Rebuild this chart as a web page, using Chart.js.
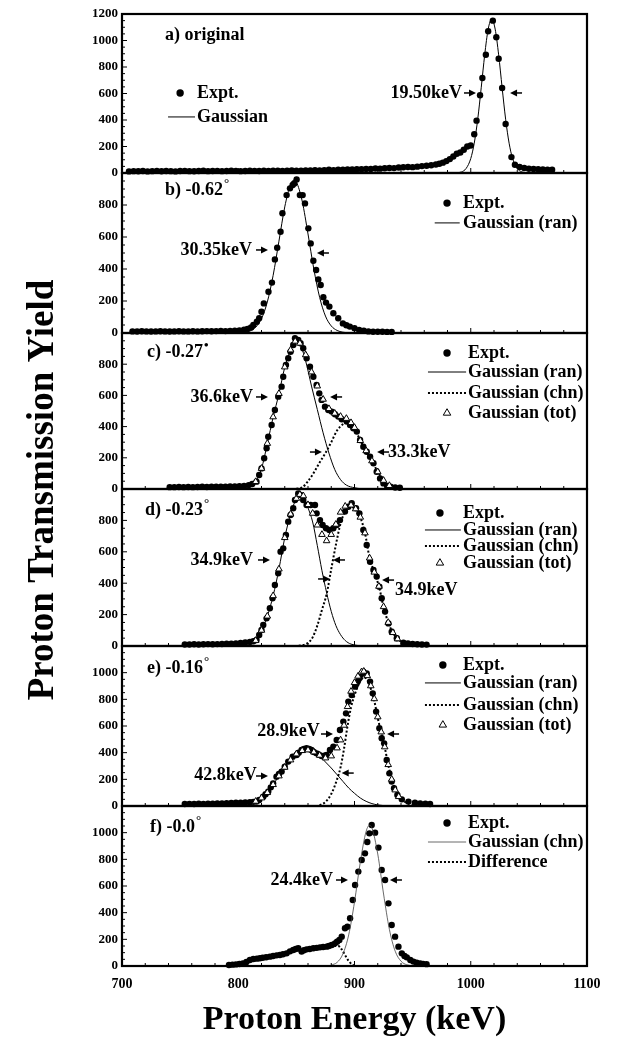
<!DOCTYPE html>
<html>
<head>
<meta charset="utf-8">
<script src="https://cdn.jsdelivr.net/npm/chart.js@4.4.1/dist/chart.umd.min.js"></script>
<style>
  html, body { margin: 0; padding: 0; background: #fff; }
  canvas { display: block; }
</style>
</head>
<body>
<canvas id="chart" width="640" height="1051"></canvas>
<script>
'use strict'

// ---- data (energy in keV, yield in counts) ----

// a) original
const aExptE = [706,710,714,718,722,726,730,734,738,742,746,750,754,758,762,766,770,774,778,782,786,790,794,798,802,806,810,814,818,822,826,830,834,838,842,846,850,854,858,862,866,870,874,878,882,886,890,894,898,902,906,910,914,918,922,926,930,934,938,942,946,950,954,958,962,966,970,973,976,979,982,985,988,991,994,997,1000,1003,1005,1008,1010,1013,1015,1019,1022,1024,1027,1030,1035,1038,1042,1046,1050,1054,1058,1062,1066,1070];
const aExptN = [12,14,13,15,12,14,16,13,15,14,12,15,16,14,13,15,17,14,15,16,14,15,17,16,14,15,17,16,15,17,16,18,17,16,18,19,17,18,20,19,21,20,22,24,22,25,24,27,26,29,28,31,30,34,33,36,38,37,41,43,45,44,48,52,55,58,64,70,78,90,105,125,145,155,175,200,207,292,395,587,717,892,1070,1150,1025,862,642,370,120,62,45,38,32,30,28,26,25,24];
const aGaussE = [988,992,996,1000,1003,1006,1009,1012,1015,1018,1021,1024,1027,1030,1033,1036,1040,1044,1048];
const aGaussN = [2,8,34,109,225,406,643,892,1086,1160,1086,892,643,406,225,109,34,8,2];

// b) -0.62 deg
const bExptE = [709,713,717,721,725,729,733,737,741,745,749,753,757,761,765,769,773,777,781,785,789,793,797,801,805,808,811,813,816,818,820,822,826,829,831.5,833.5,836.4,838,841.6,844.5,846.8,848.2,850.2,853,855.4,857.4,860.3,862.3,864.6,867,868.9,870.9,873.2,875.5,878.4,881.8,886,890,893,896,900,904,908,912,916,920,924,928,932];
const bExptN = [10,9,11,10,9,10,11,10,9,10,11,10,10,11,10,11,12,11,12,13,12,13,14,16,20,26,34,50,70,92,133,185,258,315,460,533,633,748,862,904,925,935,960,862,862,810,654,560,452,394,335,300,223,190,165,123,92,60,48,40,30,19,14,10,8,8,8,7,7];
const bRanE = [805,810,815,820,825,830,835,840,845,848,850,855,860,865,870,875,880,885,890,895];
const bRanN = [4,12,36,90,194,360,574,788,929,955,944,824,619,400,223,106,44,16,5,1];

// c) -0.27 deg
const cExptE = [741,745,749,753,757,761,765,769,773,777,781,785,789,793,797,801,805,809,812,815.7,818,820,822.3,824.4,825.8,828.7,831.5,834.4,837.3,838.7,841,843,845,847.3,848.8,851.6,853.6,855.9,858.8,861.7,864.6,867.4,869.7,871.7,874.6,877.5,880.4,883.2,886.1,889,893.3,896.2,899,902,904.8,907.6,910.5,913.4,916.3,919.1,922,924.9,928,931,935,939];
const cExptN = [12,12,13,12,13,12,13,14,13,14,15,14,15,16,17,18,20,25,32,47,90,132,197,261,335,410,506,592,656,720,795,838,880,923,966,955,934,902,838,784,720,667,613,571,528,506,496,479,464,447,432,410,389,368,314,271,239,207,165,111,68,36,20,14,10,8];
const cRanE = [810,815,820,825,830,835,840,845,849,853,858,863,868,873,878,883,888,893,900,905];
const cRanN = [15,45,130,290,460,610,780,890,945,930,820,660,510,360,230,125,60,25,8,2];
const cChnE = [850,855,860,865,870,875,880,885,890,893,897,900,905,910,915,920,925,930,935,940];
const cChnN = [2,10,50,105,170,230,300,375,415,427,415,390,310,245,180,110,55,22,8,2];
const cTotE = [815,820,825,830,835,840,845,849,853,858,863,868,873,878,883,888,893,897,900,905,910,915,920,925,930];
const cTotN = [47,132,292,462,612,782,891,947,934,860,750,660,575,515,485,465,452,425,394,310,245,180,110,55,22];

// d) -0.23 deg
const dExptE = [754,758,762,766,770,774,778,782,786,790,794,798,802,806,810,813,815.7,818,820,821.5,824.4,827.2,829.5,831.5,834.4,836.4,838.7,841,843,845,847.3,848.8,851.6,853.6,855.9,858.8,862.3,866,867.4,870.3,872.6,875.5,878.4,881.8,884.7,887.5,891.8,894.7,897.6,901.3,904.2,907.6,910.5,913.4,916.3,919.1,921.4,923.4,926.3,929.2,932,936.4,942.1,946,950,954,958,962];
const dExptN = [10,10,11,10,11,12,11,12,13,14,15,17,19,22,26,30,38,70,102,134,176,240,304,389,463,601,622,707,792,834,877,930,972,962,930,898,898,898,845,802,771,750,739,750,771,802,856,887,909,877,845,739,643,537,484,442,378,304,219,144,91,49,21,16,13,11,10,9];
const dRanE = [810,815,820,825,830,835,840,845,850,853,856,860,864,868,872,876,880,884,888,892,897,903];
const dRanN = [15,35,100,190,320,490,690,840,940,965,950,880,790,640,480,340,220,130,72,35,12,3];
const dChnE = [852,856,860,864,868,872,876,880,884,888,892,897,901,905,909,913,917,921,925,929,933,937,942,948];
const dChnN = [2,6,20,55,130,230,330,490,645,780,855,885,873,820,720,560,470,380,250,150,85,45,20,6];
const dTotE = [815,820,825,830,835,840,845,850,853,856,860,864,868,872,876,880,884,888,892,897,901,905,909,913,917,921,925,929,933,937];
const dTotN = [35,100,190,320,490,690,840,940,965,956,900,845,770,710,670,710,775,852,890,897,873,820,720,560,470,380,250,150,85,45];

// e) -0.16 deg
const eExptE = [754,758,762,766,770,774,778,782,786,790,794,798,802,806,810,813,815.7,818,821.5,823.5,825.8,828,830,832.9,835,837.3,840,843,846.8,850.2,852,854.5,856.5,858.8,861,863,865,867.4,869.5,871.7,874,876,878.9,881.8,884.7,887.5,890.4,892.7,894.7,897.6,900.5,902.5,904.2,906,907.6,910.5,913.4,915.7,918.6,921.4,923.4,925.5,927.7,930,932,934,936.9,940.7,946.4,952,956.5,961,965];
const eExptN = [15,16,15,17,16,18,17,19,20,21,22,24,25,27,29,31,33,45,70,88,108,140,170,220,240,258,295,333,370,383,400,420,428,433,428,420,405,395,385,375,378,383,420,445,495,570,633,695,783,833,895,930,958,990,1008,995,933,845,708,583,508,470,345,245,183,133,83,50,33,25,20,17,15];
const eRanE = [810,815,820,825,830,835,840,845,850,855,860,865,870,875,880,885,890,895,900,905,910,915,920,925];
const eRanN = [20,35,60,100,160,225,290,345,390,415,420,405,375,330,285,235,185,135,95,60,35,18,8,3];
const eChnE = [870,875,880,885,888,891,894,897,900,903,906,908,911,914,917,920,923,926,929,932,935,938,942,947,953];
const eChnN = [5,30,90,200,290,430,600,740,830,900,950,965,945,880,790,660,550,440,310,200,120,70,38,15,4];
const eTotE = [815,820,825,830,835,840,845,850,855,860,865,870,875,880,885,888,891,894,897,900,903,906,908,911,914,917,920,923,926,929,932,935,938];
const eTotN = [35,60,100,160,225,290,345,390,415,420,405,380,360,375,435,495,605,745,860,925,973,1005,1010,977,901,804,668,555,443,310,200,120,70];

// f) -0.0 deg
const fExptE = [792,795,798,801,804,807,810,813,816,818.6,821,824,827.2,830,833,835.8,838.5,841.6,844.5,847.3,849.5,851.6,854.5,856.5,858.8,861.5,864.6,867.5,870.3,873,876,878,880.4,883.2,885,887,889,891.8,893.9,896.2,898.5,900.5,903.3,906.2,909,911,912.8,914.8,917.7,920.6,923.4,926.3,929.2,932,934.9,937.8,940.7,943,945,948,950.7,953.5,956.5,959,962];
const fExptN = [8,10,12,15,20,30,45,52,55,58,62,66,70,75,80,83,88,95,110,120,128,133,108,118,125,128,133,136,140,142,145,150,158,170,182,195,220,283,295,358,495,608,708,795,845,930,995,1058,1000,888,720,645,470,308,220,145,95,75,65,45,33,25,20,16,14];
const fChnE = [880,885,890,895,900,905,910,913,915,920,925,930,935,940,945,950];
const fChnN = [7,27,90,233,480,780,1010,1055,1036,840,540,275,111,36,9,2];
const fDiffE = [795,805,815,825,835,845,855,865,875,882,886,889,892,895,898,901];
const fDiffN = [10,25,54,68,82,112,112,133,143,150,150,125,80,38,10,0];

// ---- panel layout and annotations (keV / counts on each panel's own axes) ----
const panels = [
  {id: 'ya', max: 1200, weight: 159, showTop: true,
   title: [737, 1041, 'a) original', ''],
   labels: [[992.5, 604, '19.50keV', 'right']],
   arrows: [[1004.5, 604, 'r'], [1033.8, 604, 'l']],
   legend: {dot: 750, sym: [739.6, 762.8], tx: 764.5, rows: [604, 423]}},
  {id: 'yb', max: 1000, weight: 160,
   title: [737, 894, 'b) -0.62', '°'],
   labels: [[811.8, 519, '30.35keV', 'right']],
   arrows: [[825.6, 519, 'r'], [867.7, 500, 'l']],
   legend: {dot: 979.6, sym: [969, 990.5], tx: 993.3, rows: [812, 688]}},
  {id: 'yc', max: 1000, weight: 156,
   title: [721.5, 878, 'c) -0.27', '•'],
   labels: [[812.7, 590, '36.6keV', 'right'], [928.8, 237, '33.3keV', 'left']],
   arrows: [[825.6, 590, 'r'], [879, 590, 'l'], [872, 237, 'r'], [919.4, 237, 'l']],
   legend: {dot: 979.6, sym: [963.2, 996], tx: 997.6, rows: [872, 750, 615, 487]}},
  {id: 'yd', max: 1000, weight: 157,
   title: [719.8, 866, 'd) -0.23', '°'],
   labels: [[812.7, 548, '34.9keV', 'right'], [934.8, 357, '34.9keV', 'left']],
   arrows: [[827.3, 548, 'r'], [881.5, 548, 'l'], [879, 427, 'r'], [923.7, 420, 'l']],
   legend: {dot: 973.5, sym: [960.6, 991.5], tx: 993.3, rows: [847, 739, 637, 529]}},
  {id: 'ye', max: 1200, weight: 160,
   title: [721.5, 1035, 'e) -0.16', '°'],
   labels: [[870, 562, '28.9keV', 'right'], [816, 232, '42.8keV', 'right']],
   arrows: [[881.5, 540, 'r'], [928, 540, 'l'], [825.6, 225, 'r'], [889, 247, 'l']],
   legend: {dot: 976, sym: [960.6, 991.5], tx: 993.3, rows: [1058, 923, 758, 608]}},
  {id: 'yf', max: 1200, weight: 160,
   title: [724, 1042, 'f) -0.0', '°'],
   labels: [[881.5, 645, '24.4keV', 'right']],
   arrows: [[894.4, 645, 'r'], [930.5, 645, 'l']],
   legend: {dot: 979.6, sym: [963.2, 996], tx: 997.6, rows: [1073, 930, 780]}}
];

const SERIF = '"Liberation Serif", "Times New Roman", serif';
const TEXT_FONT = 'bold 18px ' + SERIF;
const SUP_FONT = 'bold 13px ' + SERIF;

function pts(xs, ys) {
  return xs.map((x, i) => ({x: x, y: ys[i]}));
}

function dots(label, xs, ys, axis) {
  return {label: label, data: pts(xs, ys), yAxisID: axis, showLine: false,
    pointStyle: 'circle', pointRadius: 3.2, pointBackgroundColor: '#000',
    pointBorderWidth: 0, borderColor: '#000', order: 3, clip: false};
}

function curve(label, xs, ys, axis, dash, width, color) {
  return {label: label, data: pts(xs, ys), yAxisID: axis, showLine: true,
    pointRadius: 0, borderColor: color, borderWidth: width, borderDash: dash,
    fill: false, cubicInterpolationMode: 'monotone', order: 1, clip: false};
}

function tris(label, xs, ys, axis) {
  return {label: label, data: pts(xs, ys), yAxisID: axis, showLine: false,
    pointStyle: 'triangle', pointRadius: 3.8, pointBackgroundColor: '#fff',
    pointBorderColor: '#000', pointBorderWidth: 1, borderColor: '#000', order: 0, clip: false};
}

const DOT = [2, 2];
const datasets = [
  dots('Expt.', aExptE, aExptN, 'ya'),
  curve('Gaussian', aGaussE, aGaussN, 'ya', [], 1, '#000'),

  dots('Expt.', bExptE, bExptN, 'yb'),
  curve('Gaussian (ran)', bRanE, bRanN, 'yb', [], 1, '#000'),

  dots('Expt.', cExptE, cExptN, 'yc'),
  curve('Gaussian (ran)', cRanE, cRanN, 'yc', [], 1, '#000'),
  curve('Gaussian (chn)', cChnE, cChnN, 'yc', DOT, 2, '#000'),
  tris('Gaussian (tot)', cTotE, cTotN, 'yc'),

  dots('Expt.', dExptE, dExptN, 'yd'),
  curve('Gaussian (ran)', dRanE, dRanN, 'yd', [], 1, '#000'),
  curve('Gaussian (chn)', dChnE, dChnN, 'yd', DOT, 2, '#000'),
  tris('Gaussian (tot)', dTotE, dTotN, 'yd'),

  dots('Expt.', eExptE, eExptN, 'ye'),
  curve('Gaussian (ran)', eRanE, eRanN, 'ye', [], 1, '#000'),
  curve('Gaussian (chn)', eChnE, eChnN, 'ye', DOT, 2, '#000'),
  tris('Gaussian (tot)', eTotE, eTotN, 'ye'),

  dots('Expt.', fExptE, fExptN, 'yf'),
  curve('Gaussian (chn)', fChnE, fChnN, 'yf', [], 0.8, '#444'),
  curve('Difference', fDiffE, fDiffN, 'yf', DOT, 2, '#000')
];

// stacked y axes: the one defined last ends up on top
const scales = {
  x: {
    type: 'linear', min: 700, max: 1100,
    grid: {display: false, drawTicks: false}, border: {display: false},
    ticks: {stepSize: 100, padding: 10, autoSkip: false, maxRotation: 0, color: '#000',
      font: {size: 14, weight: 'bold'}, callback: v => String(v)},
    title: {display: true, text: 'Proton Energy (keV)', color: '#000',
      font: {size: 34, weight: 'bold', lineHeight: 1}, padding: {top: 0, bottom: 14}},
    afterFit: s => { s.height = 85; }
  }
};
panels.slice().reverse().forEach(p => {
  scales[p.id] = {
    type: 'linear', position: 'left', stack: 'panels', stackWeight: p.weight,
    min: 0, max: p.max,
    grid: {display: false, drawTicks: false}, border: {display: false},
    ticks: {stepSize: 200, autoSkip: false, padding: 4, color: '#000',
      font: {size: 13, weight: 'bold'},
      callback: v => (v === p.max && !p.showTop) ? '' : String(v)},
    afterFit: s => { s.width = 52; }
  };
});

// panel frames and inward tick marks
const framePlugin = {
  id: 'frames',
  afterDatasetsDraw(chart) {
    const ctx = chart.ctx;
    const area = chart.chartArea;
    const xs = chart.scales.x;
    ctx.save();
    ctx.strokeStyle = '#000';
    panels.forEach(p => {
      const ys = chart.scales[p.id];
      ctx.lineWidth = 1;
      ctx.beginPath();
      for (let e = 700; e <= 1100; e += 20) {
        const px = xs.getPixelForValue(e);
        const len = e % 100 === 0 ? 5 : 3;
        ctx.moveTo(px, ys.bottom);
        ctx.lineTo(px, ys.bottom - len);
      }
      for (let v = 0; v <= p.max; v += 50) {
        const py = ys.getPixelForValue(v);
        const len = v % 200 === 0 ? 5 : 3;
        ctx.moveTo(area.left, py);
        ctx.lineTo(area.left + len, py);
      }
      ctx.stroke();
      ctx.lineWidth = 2.2;
      ctx.strokeRect(area.left, ys.top, area.right - area.left, ys.bottom - ys.top);
    });
    ctx.restore();
  }
};

function drawArrow(ctx, x, y, dir) {
  const s = dir === 'r' ? -1 : 1;
  ctx.lineWidth = 1.5;
  ctx.beginPath();
  ctx.moveTo(x + s * 5, y);
  ctx.lineTo(x + s * 12, y);
  ctx.stroke();
  ctx.beginPath();
  ctx.moveTo(x, y);
  ctx.lineTo(x + s * 7, y - 3.5);
  ctx.lineTo(x + s * 7, y + 3.5);
  ctx.closePath();
  ctx.fill();
}

function drawSymbol(ctx, ds, x0, x1, xd, y) {
  ctx.save();
  if (ds.showLine === false) {
    const r = ds.pointRadius + 0.5;
    ctx.beginPath();
    if (ds.pointStyle === 'triangle') {
      ctx.moveTo(xd, y - r);
      ctx.lineTo(xd + r * 0.87, y + r * 0.5);
      ctx.lineTo(xd - r * 0.87, y + r * 0.5);
      ctx.closePath();
      ctx.fillStyle = '#fff';
      ctx.fill();
      ctx.lineWidth = 1;
      ctx.strokeStyle = '#000';
      ctx.stroke();
    } else {
      ctx.arc(xd, y, r, 0, Math.PI * 2);
      ctx.fillStyle = '#000';
      ctx.fill();
    }
  } else {
    ctx.beginPath();
    ctx.setLineDash(ds.borderDash || []);
    ctx.lineWidth = ds.borderWidth;
    ctx.strokeStyle = ds.borderColor;
    ctx.moveTo(x0, y);
    ctx.lineTo(x1, y);
    ctx.stroke();
  }
  ctx.restore();
}

// panel titles, FWHM labels and per-panel legends
const textPlugin = {
  id: 'panelText',
  afterDraw(chart) {
    const ctx = chart.ctx;
    const xs = chart.scales.x;
    ctx.save();
    ctx.fillStyle = '#000';
    ctx.strokeStyle = '#000';
    ctx.textBaseline = 'middle';
    panels.forEach(p => {
      const ys = chart.scales[p.id];
      const X = v => xs.getPixelForValue(v);
      const Y = v => ys.getPixelForValue(v);

      ctx.font = TEXT_FONT;
      ctx.textAlign = 'left';
      const tx = X(p.title[0]);
      const ty = Y(p.title[1]);
      ctx.fillText(p.title[2], tx, ty);
      if (p.title[3]) {
        const w = ctx.measureText(p.title[2]).width;
        ctx.font = SUP_FONT;
        ctx.fillText(p.title[3], tx + w + 1, ty - 6);
      }

      ctx.font = TEXT_FONT;
      p.labels.forEach(l => {
        ctx.textAlign = l[3];
        ctx.fillText(l[2], X(l[0]), Y(l[1]));
      });
      p.arrows.forEach(a => drawArrow(ctx, X(a[0]), Y(a[1]), a[2]));

      const lg = p.legend;
      const own = chart.data.datasets.filter(ds => ds.yAxisID === p.id);
      own.forEach((ds, i) => {
        const y = Y(lg.rows[i]);
        drawSymbol(ctx, ds, X(lg.sym[0]), X(lg.sym[1]), X(lg.dot), y);
        ctx.font = TEXT_FONT;
        ctx.textAlign = 'left';
        ctx.fillStyle = '#000';
        ctx.fillText(ds.label, X(lg.tx), y);
      });
    });
    ctx.restore();
  }
};

Chart.defaults.font.family = SERIF;
Chart.defaults.color = '#000';

new Chart(document.getElementById('chart'), {
  type: 'line',
  data: {datasets: datasets},
  options: {
    responsive: false,
    animation: false,
    devicePixelRatio: 1,
    layout: {padding: {top: 14, right: 53, bottom: 0, left: 0}},
    scales: scales,
    plugins: {
      legend: {display: false},
      tooltip: {enabled: false},
      title: {
        display: true, position: 'left', fullSize: false,
        text: 'Proton Transmission Yield', color: '#000',
        font: {size: 37, weight: 'bold', lineHeight: 1},
        padding: {top: 25, bottom: 8}
      }
    }
  },
  plugins: [framePlugin, textPlugin]
});
</script>
</body>
</html>
